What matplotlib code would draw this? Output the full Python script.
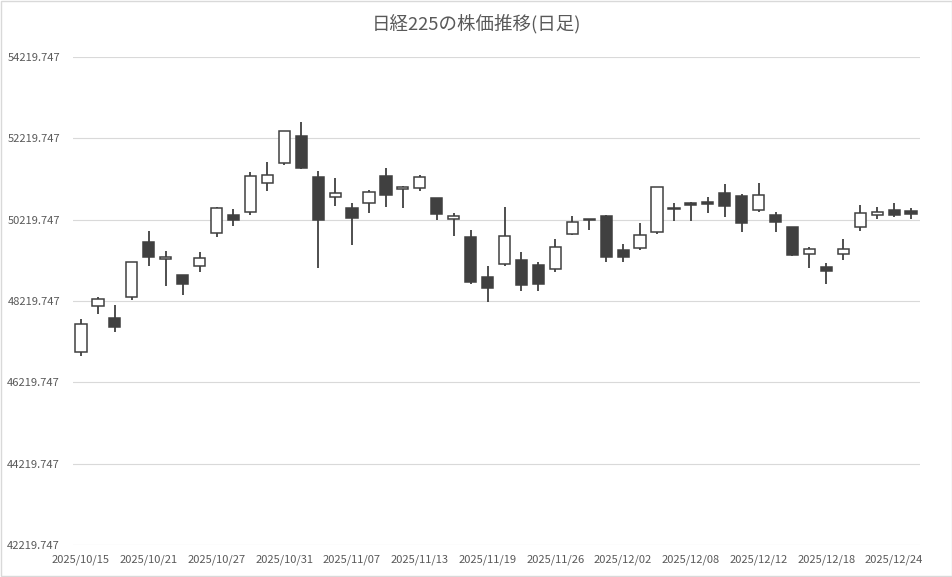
import matplotlib.pyplot as plt
import numpy as np
from matplotlib.patches import Rectangle

# -----------------------------
# データ (チャートから読み取り)
# -----------------------------
dates = [
    "2025/10/15", "2025/10/16", "2025/10/17", "2025/10/20", "2025/10/21",
    "2025/10/22", "2025/10/23", "2025/10/24", "2025/10/27", "2025/10/28",
    "2025/10/29", "2025/10/30", "2025/10/31", "2025/11/04", "2025/11/05",
    "2025/11/06", "2025/11/07", "2025/11/10", "2025/11/11", "2025/11/12",
    "2025/11/13", "2025/11/14", "2025/11/17", "2025/11/18", "2025/11/19",
    "2025/11/20", "2025/11/21", "2025/11/25", "2025/11/26", "2025/11/27",
    "2025/11/28", "2025/12/01", "2025/12/02", "2025/12/03", "2025/12/04",
    "2025/12/05", "2025/12/08", "2025/12/09", "2025/12/10", "2025/12/11",
    "2025/12/12", "2025/12/15", "2025/12/16", "2025/12/17", "2025/12/18",
    "2025/12/19", "2025/12/22", "2025/12/23", "2025/12/24", "2025/12/25",
]
opens = [
    46974, 48090, 47795, 48312, 49664, 49246, 48853, 49074, 49885, 50335,
    50416, 51115, 51607, 52271, 51262, 50770, 50500, 50623, 51294, 50967,
    50992, 50746, 50244, 49787, 48803, 49123, 49221, 49098, 49000, 49861,
    50240, 50303, 49475, 49516, 49925, 50510, 50620, 50655, 50869, 50795,
    50451, 50328, 50033, 49384, 49049, 49369, 50048, 50343, 50451, 50434,
]
highs = [
    47771, 48319, 48122, 49180, 49942, 49450, 48860, 49418, 50532, 50475,
    51385, 51631, 52410, 52630, 51417, 51245, 50623, 50950, 51484, 51040,
    51319, 50755, 50377, 49966, 49074, 50539, 49433, 49172, 49738, 50303,
    50245, 50335, 49615, 50131, 51025, 50623, 50648, 50770, 51090, 50845,
    51115, 50402, 50040, 49549, 49148, 49738, 50574, 50525, 50623, 50500,
]
lows = [
    46876, 47908, 47466, 48238, 49089, 48597, 48376, 48941, 49802, 50072,
    50335, 50933, 51572, 51470, 49039, 50564, 49598, 50377, 50539, 50515,
    50933, 50212, 49826, 48638, 48203, 49089, 48474, 48474, 48941, 49836,
    49959, 49187, 49180, 49482, 49876, 50195, 50195, 50392, 50294, 49910,
    50416, 49925, 49335, 49039, 48631, 49236, 49949, 50244, 50294, 50244,
]
closes = [
    47648, 48262, 47574, 49172, 49295, 49303, 48631, 49271, 50500, 50205,
    51287, 51311, 52401, 51484, 50205, 50869, 50254, 50893, 50820, 51031,
    51262, 50353, 50303, 48680, 48533, 49811, 48607, 48631, 49541, 50156,
    50200, 49295, 49295, 49836, 51016, 50470, 50580, 50617, 50564, 50131,
    50820, 50156, 49359, 49492, 48966, 49499, 50377, 50402, 50328, 50368,
]

y_ticks = [42219.747 + 2000 * i for i in range(7)]
label_step = 4

# -----------------------------
# 描画
# -----------------------------
plt.rcParams['font.family'] = ['Noto Sans CJK JP', 'DejaVu Sans']

fig = plt.figure(figsize=(9.53, 5.77), dpi=100)
ax = fig.add_axes([0.0761, 0.0555, 0.8888, 0.8457])

o = np.array(opens, dtype=float)
c = np.array(closes, dtype=float)
x = np.arange(len(dates))
up = c >= o
edge = '#404040'

# ヒゲ
ax.vlines(x, lows, highs, color=edge, linewidth=1.3, zorder=2)

# 実体
bottoms = np.minimum(o, c)
heights = np.abs(c - o)
ax.bar(x, heights, bottom=bottoms, width=0.66,
       color=np.where(up, 'white', edge), edgecolor=edge,
       linewidth=1.1, zorder=3)

ax.set_xlim(-0.5, len(dates) - 0.5)
ax.set_ylim(y_ticks[0], y_ticks[-1])
ax.set_yticks(y_ticks)
ax.set_yticklabels([f"{v:.3f}" for v in y_ticks])
ax.set_xticks(x[::label_step])
ax.set_xticklabels(dates[::label_step])

ax.grid(axis='y', color='#d9d9d9', linewidth=0.8, zorder=0)
ax.set_axisbelow(True)
for s in ax.spines.values():
    s.set_visible(False)
ax.tick_params(axis='both', length=0, labelsize=8, colors='#595959')
ax.tick_params(axis='y', pad=9)
ax.tick_params(axis='x', pad=7)

fig.suptitle("日経225の株価推移(日足)", x=0.5, y=0.975, fontsize=13.3,
             color='#595959')

# グラフエリアの枠
fig.patches.append(Rectangle((0.0008, 0.001), 0.9984, 0.998,
                             transform=fig.transFigure, fill=False,
                             edgecolor='#d9d9d9', linewidth=1.0))

fig.savefig("out.png", dpi=100)
